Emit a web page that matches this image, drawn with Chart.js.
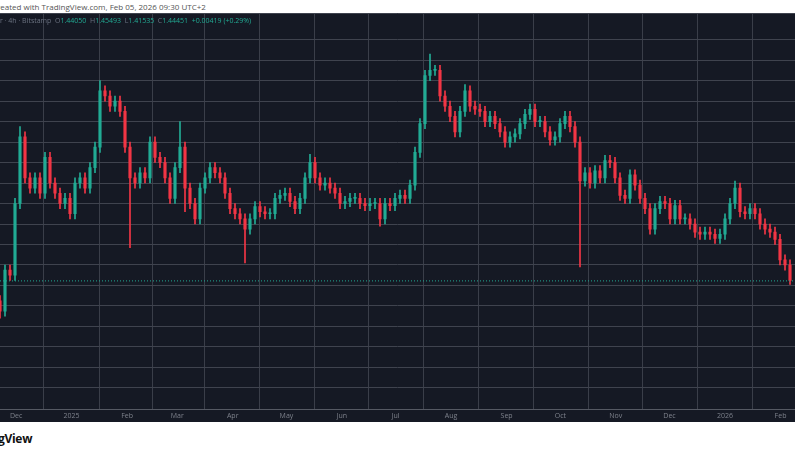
<!DOCTYPE html>
<html>
<head>
<meta charset="utf-8">
<script src="https://cdn.jsdelivr.net/npm/chart.js@4.4.1/dist/chart.umd.min.js"></script>
<style>
  html, body { margin: 0; padding: 0; background: #fff; width: 800px; height: 450px; overflow: hidden; font-family: "Open Sans", "DejaVu Sans", sans-serif; }
  #top { position: absolute; left: 0; top: 0; width: 800px; height: 13px; font-size: 8px; color: #555; line-height: 13px; white-space: nowrap; }
  #top span { margin-left: -3px; }
  #panel { position: absolute; left: 0; top: 13px; width: 795px; height: 409px; background: #151924; }
  #legend { position: absolute; left: 0; top: 16px; font-size: 7px; color: #6b7280; white-space: nowrap; z-index: 2; }
  #legend b { font-weight: normal; color: #22ab94; }
  #brand { position: absolute; left: -2px; top: 430px; font-size: 12px; font-weight: bold; color: #111; letter-spacing: -0.3px; }
  #wrap { position: absolute; left: 0; top: 13px; width: 795px; height: 409px; }
</style>
</head>
<body>
<div id="top"><span>reated with TradingView.com, Feb 05, 2026 09:30 UTC+2</span></div>
<div id="panel"></div>
<div id="legend">r · 4h · Bitstamp &nbsp;O<b>1.44050</b> &nbsp;H<b>1.45493</b> &nbsp;L<b>1.41535</b> &nbsp;C<b>1.44451</b> &nbsp;<b>+0.00419 (+0.29%)</b></div>
<div id="wrap"><canvas id="c"></canvas></div>
<div id="brand">gView</div>
<script>
// 收盘价，每根K线约2.8天（2024-11-22 起）
const closes = [
  1.15, 1.55, 1.50, 2.20, 2.85, 2.45, 2.35, 2.45, 2.30, 2.65,
  2.40, 2.30, 2.20, 2.25, 2.10, 2.40, 2.45, 2.35, 2.55, 2.75,
  3.30, 3.25, 3.15, 3.20, 3.10, 2.75, 2.45, 2.40, 2.50, 2.45,
  2.80, 2.65, 2.60, 2.45, 2.25, 2.55, 2.75, 2.35, 2.20, 2.05,
  2.35, 2.45, 2.55, 2.50, 2.45, 2.30, 2.15, 2.10, 2.05, 1.95,
  2.05, 2.17, 2.12, 2.10, 2.10, 2.25, 2.28, 2.30, 2.22, 2.15,
  2.25, 2.45, 2.60, 2.45, 2.38, 2.40, 2.35, 2.30, 2.20, 2.22,
  2.25, 2.25, 2.20, 2.18, 2.20, 2.20, 2.05, 2.20, 2.18, 2.25,
  2.28, 2.25, 2.38, 2.70, 2.98, 3.45, 3.50, 3.50, 3.25, 3.15,
  3.05, 2.90, 3.10, 3.30, 3.15, 3.12, 3.10, 3.00, 3.05, 2.98,
  2.90, 2.80, 2.85, 2.88, 2.98, 3.07, 3.12, 3.00, 3.00, 2.90,
  2.82, 2.85, 2.98, 3.05, 2.95, 2.80, 2.42, 2.50, 2.40, 2.52,
  2.45, 2.62, 2.60, 2.45, 2.28, 2.25, 2.48, 2.38, 2.25, 2.15,
  1.95, 2.15, 2.22, 2.20, 2.05, 2.18, 2.05, 2.05, 2.00, 1.92,
  1.90, 1.92, 1.90, 1.86, 1.90, 2.05, 2.20, 2.35, 2.12, 2.10,
  2.15, 2.10, 2.00, 1.95, 1.92, 1.85, 1.65, 1.60, 1.45
];
// 明显的长影线 [K线序号, 价格]
const spikeHighs = [[4, 2.95], [20, 3.40], [36, 3.00], [62, 2.68], [86, 3.66], [93, 3.36], [147, 2.42]];
const spikeLows = [[0, 1.08], [26, 1.77], [37, 2.12], [49, 1.62], [76, 1.98], [116, 1.58], [130, 1.90], [158, 1.41]];
const firstOpen = 1.25;
const lastClose = 1.44451;

// 月份刻度
const startDate = '2024-11-22';
const daysPerBar = 2.793;
const monthDates = ['2024-12-01', '2025-01-01', '2025-02-01', '2025-03-01', '2025-04-01', '2025-05-01', '2025-06-01',
  '2025-07-01', '2025-08-01', '2025-09-01', '2025-10-01', '2025-11-01', '2025-12-01', '2026-01-01', '2026-02-01'];
const monthLabels = ['Dec', '2025', 'Feb', 'Mar', 'Apr', 'May', 'Jun', 'Jul', 'Aug', 'Sep', 'Oct', 'Nov', 'Dec', '2026', 'Feb'];

const UP = '#22ab94';
const DOWN = '#f23645';

const t0 = Date.parse(startDate);
const monthIdx = monthDates.map(d => (Date.parse(d) - t0) / 86400000 / daysPerBar);

const bodies = [];
const wicks = [];
const colors = [];
closes.forEach((c, i) => {
    const o = i === 0 ? firstOpen : closes[i - 1];
    let hi = Math.max(o, c) + 0.05;
    let lo = Math.min(o, c) - 0.05;
    spikeHighs.forEach(s => { if (s[0] === i) hi = s[1]; });
    spikeLows.forEach(s => { if (s[0] === i) lo = s[1]; });
    bodies.push({ x: i, y: [o, c] });
    wicks.push({ x: i, y: [lo, hi] });
    colors.push(c >= o ? UP : DOWN);
});

const lastLine = {
    id: 'lastLine',
    afterDatasetsDraw(chart) {
        const { ctx, chartArea, scales } = chart;
        const y = scales.y.getPixelForValue(lastClose);
        ctx.save();
        ctx.strokeStyle = UP;
        ctx.lineWidth = 1;
        ctx.setLineDash([1, 2]);
        ctx.beginPath();
        ctx.moveTo(chartArea.left, y);
        ctx.lineTo(chartArea.right, y);
        ctx.stroke();
        ctx.restore();
    }
};

new Chart(document.getElementById('c').getContext('2d'), {
    type: 'bar',
    data: {
        datasets: [
            { data: wicks, backgroundColor: colors, barThickness: 1, grouped: false },
            { data: bodies, backgroundColor: colors, barThickness: 2.5, grouped: false, minBarLength: 1 }
        ]
    },
    options: {
        responsive: true,
        maintainAspectRatio: false,
        animation: false,
        layout: { padding: 0 },
        plugins: { legend: { display: false }, tooltip: { enabled: false } },
        scales: {
            x: {
                type: 'linear',
                min: 0,
                max: 159,
                offset: false,
                afterBuildTicks: axis => { axis.ticks = monthIdx.map(v => ({ value: v })); },
                ticks: {
                    autoSkip: false,
                    maxRotation: 0,
                    color: '#7d818b',
                    font: { size: 7, family: 'Open Sans' },
                    padding: 2,
                    callback: (v, i) => monthLabels[i]
                },
                grid: { color: '#3a3e49', drawTicks: false },
                border: { color: '#555963' }
            },
            y: {
                min: 0.188,
                max: 4.06,
                ticks: { display: false, stepSize: 0.2 },
                grid: { color: '#3f434e', drawTicks: false },
                border: { display: false }
            }
        }
    },
    plugins: [lastLine]
});
</script>
</body>
</html>
